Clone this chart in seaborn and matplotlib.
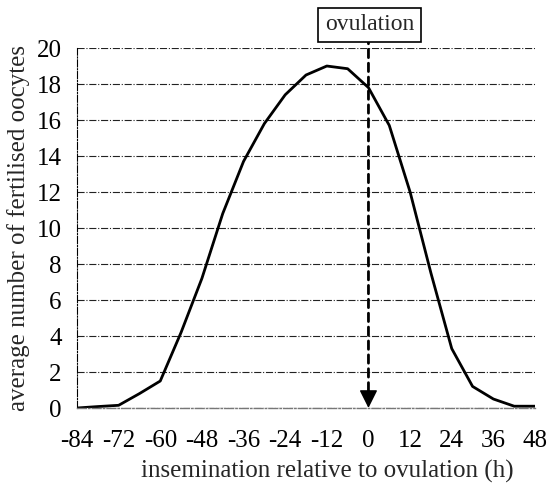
import matplotlib
matplotlib.use("Agg")
import matplotlib.pyplot as plt
import seaborn as sns

# hours relative to ovulation and mean fertilised oocytes
hours = [-84, -78, -72, -66, -60, -54, -48, -42, -36, -30, -24, -18,
         -12, -6, 0, 6, 12, 18, 24, 30, 36, 42, 48]
oocytes = [0.0, 0.08, 0.15, 0.8, 1.5, 4.2, 7.2, 10.8, 13.7, 15.8, 17.4, 18.5,
           19.0, 18.85, 17.8, 15.7, 12.0, 7.5, 3.3, 1.2, 0.5, 0.1, 0.1]
x_ticks = [-84, -72, -60, -48, -36, -24, -12, 0, 12, 24, 36, 48]
y_ticks = [0, 2, 4, 6, 8, 10, 12, 14, 16, 18, 20]

sns.set_theme(style="white")
plt.rcParams["font.family"] = ["Liberation Serif", "DejaVu Serif"]

fig = plt.figure(figsize=(5.55, 4.93), dpi=100)
ax = fig.add_axes([0.1387, 0.1724, 0.964 - 0.1387, 0.9026 - 0.1724])

sns.lineplot(x=hours, y=oocytes, color="black", lw=2, ax=ax)

ax.set_xlim(-84, 48)
ax.set_ylim(0, 20)
ax.set_xticks(x_ticks)
ax.set_yticks(y_ticks)
ax.set_xticklabels([str(t) for t in x_ticks])
ax.yaxis.grid(True, color="#222222", lw=0.8, linestyle="-.")
ax.xaxis.grid(False)

for side in ["top", "right"]:
    ax.spines[side].set_visible(False)
ax.spines["left"].set_linestyle("-.")
ax.spines["left"].set_linewidth(0.8)
ax.spines["left"].set_color("black")
ax.spines["bottom"].set_linestyle("-.")
ax.spines["bottom"].set_linewidth(1.0)
ax.spines["bottom"].set_color("#777777")

ax.tick_params(axis="both", which="major", direction="out", length=5,
               width=0.8, colors="black", labelsize=18, pad=6)
ax.tick_params(axis="x", pad=11)

ax.set_xlabel("insemination relative to ovulation (h)", fontsize=18)
ax.xaxis.set_label_coords(0.546, -0.145)
ax.set_ylabel("average number of fertilised oocytes", fontsize=18, labelpad=5)

# ovulation marker: dashed shaft plus a solid filled head
ax.annotate("", xy=(0, 0.75), xytext=(0, 20.7),
            arrowprops=dict(arrowstyle="-", linestyle=(0, (3, 2)), lw=2,
                            color="black", shrinkA=0, shrinkB=0),
            annotation_clip=False)
ax.annotate("", xy=(0, 0), xytext=(0, 0.8),
            arrowprops=dict(arrowstyle="-|>", lw=1, color="black",
                            mutation_scale=28, shrinkA=0, shrinkB=0),
            annotation_clip=False)
ax.text(0.3, 21.3, "ovulation", ha="center", va="center", fontsize=17,
        bbox=dict(boxstyle="square,pad=0.28", fc="white", ec="black", lw=1.2),
        clip_on=False)

fig.savefig("out.png", dpi=100)
